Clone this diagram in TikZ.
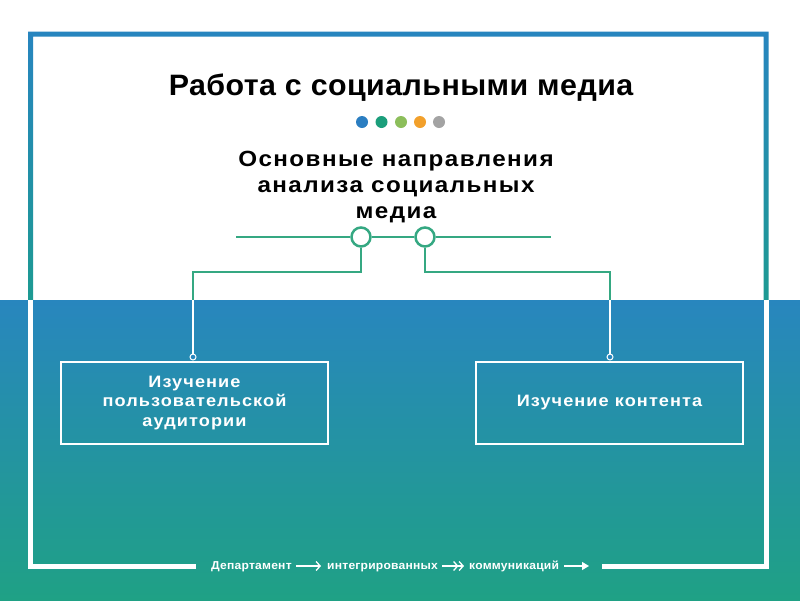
\documentclass[tikz,border=0pt]{standalone}
\usepackage{fontspec}
\setmainfont{Liberation Sans}
\newfontfamily\fontT[FakeStretch=1.03,LetterSpace=1.5]{Liberation Sans}
\newfontfamily\fontS[FakeStretch=1.1,LetterSpace=6.5]{Liberation Sans}
\newfontfamily\fontF[FakeStretch=1.05,LetterSpace=2]{Liberation Sans}
\usetikzlibrary{arrows.meta,calc}
\definecolor{fblue}{HTML}{2785BF}
\definecolor{fteal}{HTML}{1D9A92}
\definecolor{bgtop}{HTML}{2886BE}
\definecolor{bgbot}{HTML}{1FA185}
\definecolor{lgreen}{HTML}{35A882}
\definecolor{dotA}{HTML}{2B7EC1}
\definecolor{dotB}{HTML}{1B9E7B}
\definecolor{dotC}{HTML}{8CBE5B}
\definecolor{dotD}{HTML}{F2A02B}
\definecolor{dotE}{HTML}{A3A3A3}
\begin{document}
\begin{tikzpicture}[x=1pt,y=-1pt,
  dotnode/.style={circle,inner sep=0pt,minimum size=12pt},
  ring/.style={circle,draw=lgreen,fill=white,line width=2.5pt,inner sep=0pt,minimum size=19pt},
  smallring/.style={circle,draw=white,fill=bgtop,line width=1pt,inner sep=0pt,minimum size=6pt},
  boxnode/.style={draw=white,line width=2.5pt,minimum width=267pt,minimum height=82pt,inner sep=0pt,
    text=white,font=\fontS\fontsize{16.5}{19.5}\selectfont\bfseries,align=center},
  foot/.style={text=white,font=\fontF\fontsize{11.5}{13}\selectfont\bfseries,inner sep=0pt,anchor=base west},
  conn/.style={line width=2pt,line join=miter},
  footarrow/.style={white,line width=1.3pt}]
\useasboundingbox (0,0) rectangle (800,600);
% background
\fill[white] (0,0) rectangle (800,300);
\shade[top color=bgtop,bottom color=bgbot] (0,300) rectangle (800,600);
% frame, upper part (shaded blue to teal)
\begin{scope}
  \clip (0,0) rectangle (800,300);
  \begin{scope}[even odd rule]
    \clip (28,31.5) rectangle (768.5,568.5) (33,36.5) rectangle (763.5,563.5);
    \shade[top color=fblue,bottom color=fteal] (0,31) rectangle (800,300);
  \end{scope}
\end{scope}
% frame, lower part (white)
\coordinate (fl) at (30.5,300);
\coordinate (fbl) at (30.5,566);
\coordinate (fg1) at (196,566);
\coordinate (fg2) at (602,566);
\coordinate (fbr) at (766,566);
\coordinate (fr) at (766,300);
\draw[white,line width=5pt,line join=miter] (fl) -- (fbl) -- (fg1);
\draw[white,line width=5pt,line join=miter] (fg2) -- (fbr) -- (fr);
% title
\node[font=\fontT\fontsize{29.5}{34}\selectfont\bfseries] (title) at (401,88) {Работа с социальными медиа};
% dots
\node[dotnode,fill=dotA] (dA) at (362,122) {};
\node[dotnode,fill=dotB] (dB) at (381.5,122) {};
\node[dotnode,fill=dotC] (dC) at (401,122) {};
\node[dotnode,fill=dotD] (dD) at (420,122) {};
\node[dotnode,fill=dotE] (dE) at (439,122) {};
% subtitle
\node[font=\fontS\fontsize{22}{26}\selectfont\bfseries,align=center] (sub) at (396,187)
  {Основные направления\\анализа социальных\\медиа};
% horizontal line with rings
\coordinate (hl) at (236,237);
\coordinate (hr) at (551,237);
\node[ring] (c1) at (361,237) {};
\node[ring] (c2) at (425,237) {};
\draw[lgreen,line width=2.5pt] (hl) -- (c1.west);
\draw[lgreen,line width=2.5pt] (c1.east) -- (c2.west);
\draw[lgreen,line width=2.5pt] (c2.east) -- (hr);
% boxes
\node[boxnode] (b1) at (194.5,403) {Изучение\\пользовательской\\аудитории};
\node[boxnode] (b2) at (609.5,403) {Изучение контента};
\node[smallring] (s1) at (193,357) {};
\node[smallring] (s2) at (610,357) {};
% connectors
\begin{scope}
  \clip (0,0) rectangle (800,300);
  \draw[conn,lgreen] (c1.south) -- ($(c1.south)+(0,24)$) -| (s1.north);
  \draw[conn,lgreen] (c2.south) -- ($(c2.south)+(0,24)$) -| (s2.north);
\end{scope}
\begin{scope}
  \clip (0,300) rectangle (800,600);
  \draw[conn,white] (c1.south) -- ($(c1.south)+(0,24)$) -| (s1.north);
  \draw[conn,white] (c2.south) -- ($(c2.south)+(0,24)$) -| (s2.north);
\end{scope}
% footer
\node[foot] (f1) at (211,569.5) {Департамент};
\node[foot] (f2) at (327,569.5) {интегрированных};
\node[foot] (f3) at (469,569.5) {коммуникаций};
\coordinate (fend) at (589,566);
\draw[footarrow,-{Straight Barb[length=4pt,width=9pt]},shorten <=4pt,shorten >=6pt] (f1.east |- fend) -- (f2.west |- fend);
\draw[footarrow,-{Straight Barb[length=4pt,width=9pt]Straight Barb[length=4pt,width=9pt]},shorten <=4pt,shorten >=5pt] (f2.east |- fend) -- (f3.west |- fend);
\draw[footarrow,-{Triangle[length=7pt,width=8pt]},shorten <=5pt] (f3.east |- fend) -- (fend);
\end{tikzpicture}
\end{document}
